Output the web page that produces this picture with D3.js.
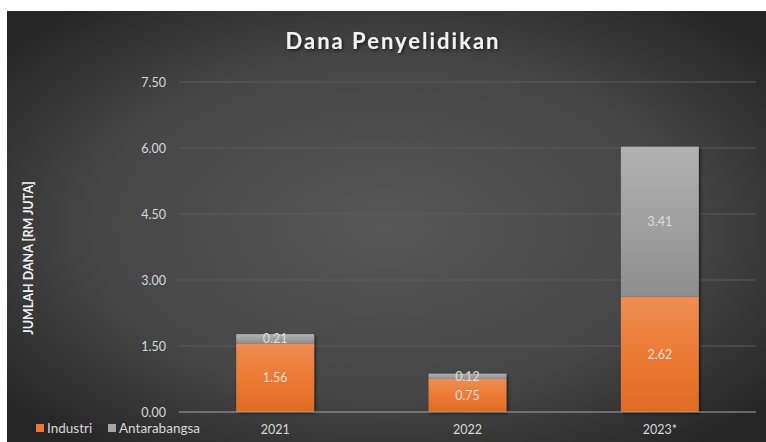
<!DOCTYPE html>
<html>
<head>
<meta charset="utf-8">
<script src="https://cdn.jsdelivr.net/npm/d3@7"></script>
<style>
  body { margin: 0; background: #fff; }
  svg { display: block; }
</style>
</head>
<body>
<script>
// chart data
var years = ["2021", "2022", "2023*"];
var industri = [1.56, 0.75, 2.62];
var antarabangsa = [0.21, 0.12, 3.41];
var yTicks = [0, 1.5, 3, 4.5, 6, 7.5];
var seriesNames = ["Industri", "Antarabangsa"];

var W = 766, H = 442;
var svg = d3.select("body").append("svg").attr("width", W).attr("height", H);
var defs = svg.append("defs");

// background gradient
var bg = defs.append("radialGradient").attr("id", "bg")
    .attr("cx", "50%").attr("cy", "50%").attr("r", "65%");
bg.append("stop").attr("offset", "0%").attr("stop-color", "#575757");
bg.append("stop").attr("offset", "60%").attr("stop-color", "#464646");
bg.append("stop").attr("offset", "100%").attr("stop-color", "#262626");

var og = defs.append("linearGradient").attr("id", "og").attr("x1", 0).attr("y1", 0).attr("x2", 0).attr("y2", 1);
og.append("stop").attr("offset", "0%").attr("stop-color", "#ee8d55");
og.append("stop").attr("offset", "50%").attr("stop-color", "#ec7a33");
og.append("stop").attr("offset", "100%").attr("stop-color", "#df6b25");

var gg = defs.append("linearGradient").attr("id", "gg").attr("x1", 0).attr("y1", 0).attr("x2", 0).attr("y2", 1);
gg.append("stop").attr("offset", "0%").attr("stop-color", "#b2b2b2");
gg.append("stop").attr("offset", "100%").attr("stop-color", "#8e8e8e");

var shadow = defs.append("filter").attr("id", "sh").attr("x", "-20%").attr("y", "-20%").attr("width", "150%").attr("height", "150%");
shadow.append("feDropShadow").attr("dx", 1.5).attr("dy", 1.5).attr("stdDeviation", 1.5)
    .attr("flood-color", "#000").attr("flood-opacity", 0.6);

svg.append("rect").attr("x", 7).attr("y", 11).attr("width", W - 7).attr("height", H - 11)
    .attr("fill", "url(#bg)");

var colors = ["url(#og)", "url(#gg)"];
var legendColors = ["#ec7a33", "#a5a5a5"];
var font = "Lato, 'Open Sans', sans-serif";

var x = d3.scaleBand().domain(years).range([179, 756]).paddingInner(0.595).paddingOuter(0.2975);
var y = d3.scaleLinear().domain([0, 7.5]).range([412, 82]);

// gridlines
svg.append("g").selectAll("line")
    .data(yTicks.slice(1))
    .enter().append("line")
    .attr("x1", 179).attr("x2", 756)
    .attr("y1", function (d) { return y(d); }).attr("y2", function (d) { return y(d); })
    .attr("stroke", "#5c5c5c").attr("stroke-width", 1);

// y axis labels
var yAxis = d3.axisLeft(y).tickValues(yTicks).tickFormat(d3.format(".2f")).tickSize(0).tickPadding(0);
var ya = svg.append("g").attr("transform", "translate(166,0)").call(yAxis);
ya.select(".domain").remove();
ya.selectAll("text").attr("fill", "#d9d9d9").style("font-family", font).style("font-size", "12.5px");

// stacked data
var rows = years.map(function (yr, i) {
    return { year: yr, Industri: industri[i], Antarabangsa: antarabangsa[i] };
});
var stack = d3.stack().keys(seriesNames)(rows);

// bars (shadow on the whole group so segments don't shade each other)
var barGroup = svg.append("g").attr("filter", "url(#sh)");
barGroup.selectAll("g")
    .data(stack)
    .enter().append("g")
    .attr("fill", function (d, i) { return colors[i]; })
    .selectAll("rect")
    .data(function (d) { return d; })
    .enter().append("rect")
    .attr("x", function (d) { return x(d.data.year); })
    .attr("width", x.bandwidth())
    .attr("y", function (d) { return y(d[1]); })
    .attr("height", function (d) { return y(d[0]) - y(d[1]); });

// data labels
svg.append("g").selectAll("g")
    .data(stack)
    .enter().append("g")
    .selectAll("text")
    .data(function (d) { return d; })
    .enter().append("text")
    .attr("x", function (d) { return x(d.data.year) + x.bandwidth() / 2; })
    .attr("y", function (d) { return (y(d[0]) + y(d[1])) / 2; })
    .attr("dy", "0.36em")
    .attr("text-anchor", "middle")
    .attr("fill", "#dedede")
    .style("font-family", font).style("font-size", "12.5px")
    .text(function (d) { return d3.format(".2f")(d[1] - d[0]); });

// baseline
svg.append("line").attr("x1", 179).attr("x2", 756).attr("y1", y(0)).attr("y2", y(0))
    .attr("stroke", "#a6a6a6").attr("stroke-width", 1.2);

// x axis labels
var xAxis = d3.axisBottom(x).tickSize(0).tickPadding(0);
var xa = svg.append("g").attr("transform", "translate(0,425)").call(xAxis);
xa.select(".domain").remove();
xa.selectAll("text").attr("fill", "#d9d9d9").style("font-family", font).style("font-size", "12.5px");

// title
svg.append("text").attr("x", 393).attr("y", 49).attr("text-anchor", "middle")
    .attr("fill", "#f2f2f2").attr("filter", "url(#sh)")
    .style("font-family", font).style("font-size", "22px").style("font-weight", "bold")
    .style("letter-spacing", "2px")
    .text("Dana Penyelidikan");

// y axis title
svg.append("text").attr("transform", "translate(33,258) rotate(-90)").attr("text-anchor", "middle")
    .attr("fill", "#f2f2f2")
    .style("font-family", font).style("font-size", "12.5px").style("font-weight", "bold")
    .text("JUMLAH DANA [RM JUTA]");

// legend
var leg = svg.append("g").selectAll("g")
    .data(seriesNames)
    .enter().append("g")
    .attr("transform", function (d, i) { return "translate(" + [36, 108][i] + ",424)"; });
leg.append("rect").attr("width", 8).attr("height", 8).attr("fill", function (d, i) { return legendColors[i]; });
leg.append("text").attr("x", 11).attr("y", 8.5)
    .attr("fill", "#d9d9d9")
    .style("font-family", font).style("font-size", "13.5px")
    .text(function (d) { return d; });
</script>
</body>
</html>
